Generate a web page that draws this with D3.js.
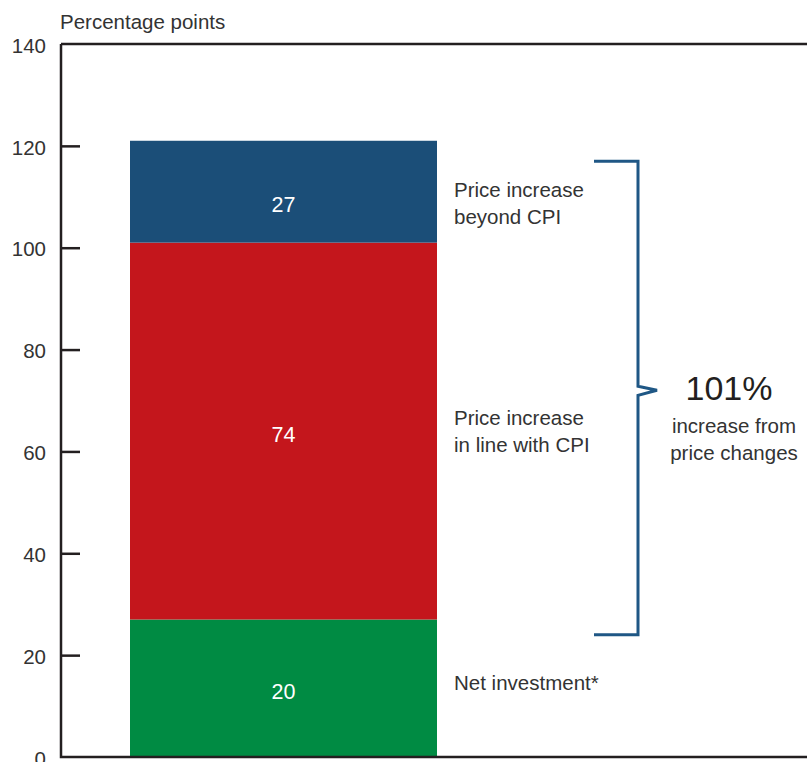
<!DOCTYPE html>
<html>
<head>
<meta charset="utf-8">
<script src="https://cdn.jsdelivr.net/npm/d3@7"></script>
<style>
  body { margin: 0; background: #fff; }
  svg { display: block; font-family: "Liberation Sans", Arial, sans-serif; }
  .tick text { fill: #333; font-size: 20.5px; }
  .note { fill: #333; font-size: 20.5px; }
</style>
</head>
<body>
<svg id="chart" width="807" height="762"></svg>
<script>
// stacked segments, bottom to top
const segments = ['Net investment*', 'Price increase in line with CPI', 'Price increase beyond CPI'];
const segmentValues = [27, 74, 20];
const segmentLabels = ['20', '74', '27'];
const noteLines = [['Net investment*'], ['Price increase', 'in line with CPI'], ['Price increase', 'beyond CPI']];
const colors = ['#008b43', '#c4161c', '#1b4e78'];
const yTicks = [0, 20, 40, 60, 80, 100, 120, 140];
const braceRange = [24, 117];
const braceText = ['101%', 'increase from', 'price changes'];

const svg = d3.select('#chart');
const mLeft = 61, mRight = 807, mTop = 44, mBottom = 757;

const y = d3.scaleLinear().domain([0, 140]).range([mBottom, mTop]);
const x = d3.scaleBand().domain(['bar']).range([130, 437]).padding(0);

// stack
let acc = 0;
const stacked = segmentValues.map((v, i) => {
  const d = { name: segments[i], y0: acc, y1: acc + v, label: segmentLabels[i], color: colors[i], notes: noteLines[i], i };
  acc += v;
  return d;
});

// axis
const axis = d3.axisLeft(y)
  .tickValues(yTicks)
  .tickSizeInner(-19)
  .tickSizeOuter(0)
  .tickPadding(15);
const g = svg.append('g')
  .attr('transform', `translate(${mLeft},0)`)
  .call(axis);
g.select('.domain').remove();
g.selectAll('.tick line')
  .attr('stroke', '#231f20')
  .attr('stroke-width', 2.5)
  .filter(d => d === 0 || d === 140).remove();
g.selectAll('.tick text').attr('dy', '0.4em');

svg.append('text')
  .attr('class', 'note')
  .attr('x', 60).attr('y', 29)
  .text('Percentage points');

// bars
svg.append('g')
  .selectAll('rect')
  .data(stacked)
  .enter()
  .append('rect')
  .attr('x', x('bar'))
  .attr('width', x.bandwidth())
  .attr('y', d => y(d.y1))
  .attr('height', d => y(d.y0) - y(d.y1))
  .attr('fill', d => d.color);

// value labels (top one sits a little low in the original)
svg.append('g')
  .selectAll('text')
  .data(stacked)
  .enter()
  .append('text')
  .attr('x', x('bar') + x.bandwidth() / 2)
  .attr('y', d => (y(d.y0) + y(d.y1)) / 2 + (d.i === 2 ? 13 : 3))
  .attr('dy', '0.35em')
  .attr('text-anchor', 'middle')
  .attr('fill', '#fff')
  .attr('font-size', 21.5)
  .text(d => d.label);

// side notes
const notes = svg.append('g')
  .selectAll('text')
  .data(stacked)
  .enter()
  .append('text')
  .attr('class', 'note')
  .attr('x', 454)
  .attr('y', d => (y(d.y0) + y(d.y1)) / 2 - (d.notes.length - 1) * 13.5 + (d.i === 2 ? 19 : d.i === 1 ? 7 : 2))
  .attr('dy', '0.35em');
notes.selectAll('tspan')
  .data(d => d.notes)
  .enter()
  .append('tspan')
  .attr('x', 454)
  .attr('dy', (d, i) => i ? 27 : 0)
  .text(d => d);

// frame lines
const frame = svg.append('g').attr('stroke', '#231f20').attr('stroke-width', 2.5).attr('fill', 'none');
frame.append('path').attr('d', `M${mLeft},${y(140)}H${mRight}`);
frame.append('path').attr('d', `M${mLeft},${y(140)}V${y(0)}H${mRight}`);

// brace
const bx = 638, bTop = y(braceRange[1]), bBot = y(braceRange[0]);
const tipY = y(72);
svg.append('path')
  .attr('d', `M594,${bTop}H${bx}V${tipY - 4}L${bx + 19},${tipY}L${bx},${tipY + 5}V${bBot}H594`)
  .attr('fill', 'none')
  .attr('stroke', '#1f5785')
  .attr('stroke-width', 3);

svg.append('text')
  .attr('x', 729).attr('y', 400)
  .attr('text-anchor', 'middle')
  .attr('fill', '#231f20')
  .attr('font-size', 34)
  .text(braceText[0]);
svg.append('text')
  .attr('class', 'note')
  .attr('text-anchor', 'middle')
  .selectAll('tspan')
  .data(braceText.slice(1))
  .enter()
  .append('tspan')
  .attr('x', 734)
  .attr('y', (d, i) => 433 + i * 27)
  .text(d => d);
</script>
</body>
</html>
